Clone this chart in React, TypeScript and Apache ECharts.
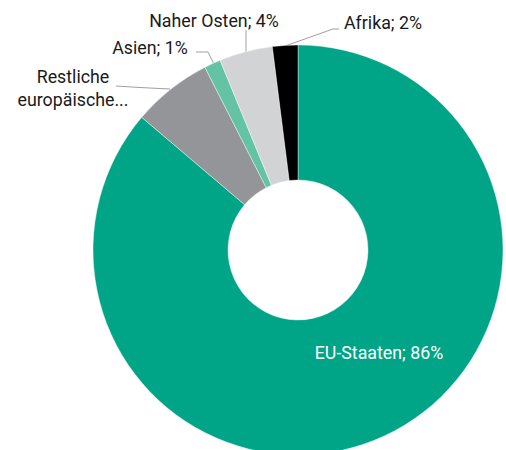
import React, { useEffect, useRef } from "react";
import * as echarts from "echarts";

const categories = ["EU-Staaten", "Restliche europäische Staaten", "Asien", "Naher Osten", "Afrika"];
const values = [86.2, 6.3, 1.3, 4.2, 2.0];
const shortLabels = ["EU-Staaten", "Restliche\neuropäische...", "Asien", "Naher Osten", "Afrika"];
const colors = ["#00a587", "#939598", "#64c3a5", "#d1d3d4", "#000000"];

const labelPlaces: { x: number; y: number; line: number[][] | null }[] = [
  { x: 379, y: 352, line: null },
  { x: 73, y: 88, line: [[170, 89], [140, 87.5], [116, 86]] },
  { x: 150, y: 47, line: [[214, 64], [208, 52], [196, 52]] },
  { x: 214, y: 20, line: [[246, 52], [246, 40], [246, 30]] },
  { x: 383, y: 22, line: [[285, 46], [333, 29], [339, 29]] },
];

export default function App() {
  const ref = useRef<HTMLDivElement>(null);
  useEffect(() => {
    document.body.style.margin = "0";
    const chart = echarts.init(ref.current!, null, { renderer: "svg" });
    chart.setOption({
      animation: false,
      backgroundColor: "#ffffff",
      series: [
        {
          type: "pie",
          center: [298, 250],
          radius: [70, 205],
          startAngle: 90,
          clockwise: true,
          avoidLabelOverlap: false,
          itemStyle: { borderColor: "#ffffff", borderWidth: 0.4 },
          label: {
            show: true,
            position: "outside",
            fontFamily: "Roboto",
            fontSize: 17.8,
            color: "#1a1a1a",
            lineHeight: 23,
            align: "center",
            formatter: (p: any) =>
              p.dataIndex === 1
                ? shortLabels[1]
                : `${shortLabels[p.dataIndex]}; ${Math.round(p.value)}%`,
          },
          labelLine: { show: true, lineStyle: { color: "#a0a0a0", width: 1 } },
          labelLayout: (params: any) => {
            const pl = labelPlaces[params.dataIndex];
            const r: any = { x: pl.x, y: pl.y, align: "center", verticalAlign: "middle" };
            if (pl.line) r.labelLinePoints = pl.line;
            return r;
          },
          data: categories.map((c, i) => ({
            name: c,
            value: values[i],
            itemStyle: { color: colors[i] },
            ...(i === 0
              ? { label: { position: "inside", color: "#ffffff" }, labelLine: { show: false } }
              : {}),
          })),
        },
      ],
    });
    return () => chart.dispose();
  }, []);
  return <div ref={ref} style={{ width: 506, height: 450 }} />;
}
